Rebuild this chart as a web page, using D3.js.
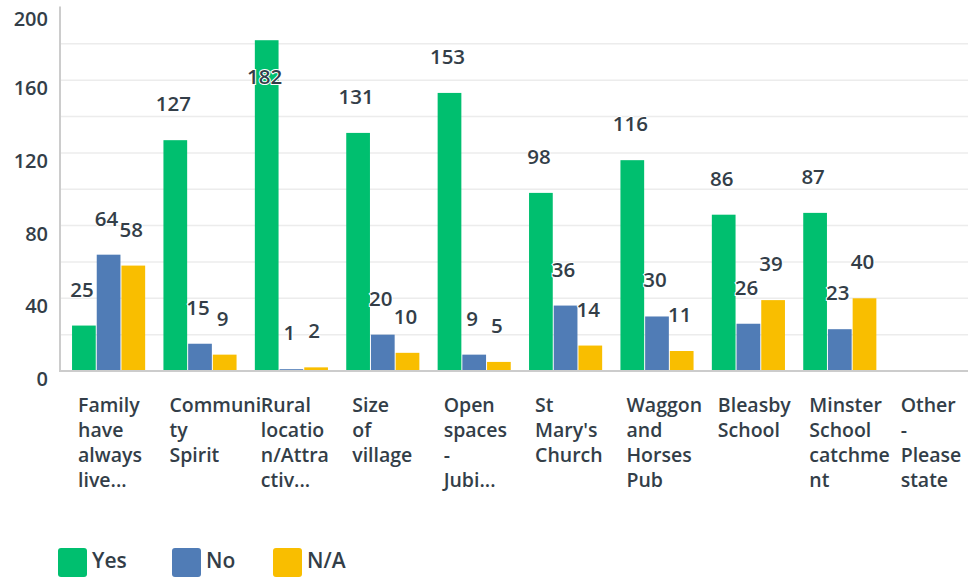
<!DOCTYPE html>
<html>
<head>
<meta charset="utf-8">
<script src="https://cdn.jsdelivr.net/npm/d3@7"></script>
<style>
  body { margin: 0; background: #fff; }
  text { font-family: "Open Sans", sans-serif; fill: #333e48; }
</style>
</head>
<body>
<script>
// chart data
var categoryLines = [
    ["Family", "have", "always", "live..."],
    ["Communi", "ty", "Spirit"],
    ["Rural", "locatio", "n/Attra", "ctiv..."],
    ["Size", "of", "village"],
    ["Open", "spaces", "-", "Jubi..."],
    ["St", "Mary's", "Church"],
    ["Waggon", "and", "Horses", "Pub"],
    ["Bleasby", "School"],
    ["Minster", "School", "catchme", "nt"],
    ["Other", "-", "Please", "state"]
];
var seriesNames = ["Yes", "No", "N/A"];
var seriesColors = ["#00bf6f", "#507cb6", "#f9be00"];
var yesValues = [25, 127, 182, 131, 153, 98, 116, 86, 87, 0];
var noValues = [64, 15, 1, 20, 9, 36, 30, 26, 23, 0];
var naValues = [58, 9, 2, 10, 5, 14, 11, 39, 40, 0];
var yTicks = [0, 40, 80, 120, 160, 200];
var gridValues = [20, 40, 60, 80, 100, 120, 140, 160, 180];

function init() {
    var width = 968;
    var height = 577;
    var plotTop = 7.5, plotBottom = 371;

    var svg = d3.select("body").append("svg")
        .attr("width", width)
        .attr("height", height);

    var series = [yesValues, noValues, naValues];

    // step of ~91.4px per category, first group starting at x=72
    var x0 = d3.scaleBand()
        .domain(d3.range(categoryLines.length))
        .range([62.9, 976.9])
        .paddingInner(0.2)
        .paddingOuter(0.1);

    var x1 = d3.scaleBand()
        .domain(d3.range(series.length))
        .range([0, x0.bandwidth()])
        .paddingInner(0.04);

    var y = d3.scaleLinear()
        .domain([0, 200])
        .range([plotBottom, plotTop]);

    // gridlines
    svg.append("g").selectAll("line")
        .data(gridValues)
        .enter().append("line")
        .attr("x1", 61).attr("x2", width)
        .attr("y1", function(d) { return y(d); })
        .attr("y2", function(d) { return y(d); })
        .attr("stroke", "#ececec")
        .attr("stroke-width", 1.5);

    // y tick labels
    svg.append("g").selectAll("text")
        .data(yTicks)
        .enter().append("text")
        .attr("x", 48)
        .attr("y", function(d) { return Math.max(y(d) + 15, 26); })
        .attr("text-anchor", "end")
        .attr("font-size", "20px")
        .attr("font-weight", 600)
        .text(function(d) { return d; });

    // bars
    var groups = svg.append("g").selectAll("g")
        .data(categoryLines)
        .enter().append("g")
        .attr("transform", function(d, i) { return "translate(" + x0(i) + ",0)"; });

    groups.selectAll("rect")
        .data(function(d, i) { return series.map(function(s, k) { return { k: k, v: s[i] }; }); })
        .enter().append("rect")
        .filter(function(d) { return d.v > 0; })
        .attr("x", function(d) { return x1(d.k); })
        .attr("y", function(d) { return y(d.v); })
        .attr("width", x1.bandwidth())
        .attr("height", function(d) { return y(0) - y(d.v); })
        .attr("fill", function(d) { return seriesColors[d.k]; });

    // axis lines
    svg.append("line")
        .attr("x1", 60).attr("x2", 60)
        .attr("y1", plotTop - 1).attr("y2", plotBottom + 1)
        .attr("stroke", "#cccccc").attr("stroke-width", 2);
    svg.append("line")
        .attr("x1", 60).attr("x2", width)
        .attr("y1", plotBottom).attr("y2", plotBottom)
        .attr("stroke", "#cccccc").attr("stroke-width", 2);

    // value labels
    groups.selectAll("text.value")
        .data(function(d, i) { return series.map(function(s, k) { return { k: k, v: s[i] }; }); })
        .enter().filter(function(d) { return d.v > 0; }).append("text")
        .attr("class", "value")
        .attr("x", function(d) { return x1(d.k) + x1.bandwidth() / 2 - 2; })
        .attr("y", function(d) {
            var base = y(d.v) - 29;
            // keep the label inside the plot area
            if (base - 15 < plotTop) base = y(d.v) + 44;
            return base;
        })
        .attr("text-anchor", "middle")
        .attr("font-size", "20.5px")
        .attr("font-weight", 600)
        .attr("stroke", "#fff")
        .attr("stroke-width", 2)
        .attr("paint-order", "stroke")
        .text(function(d) { return d.v; });

    // category labels
    var catText = groups.append("text")
        .attr("x", 6)
        .attr("y", 412)
        .attr("font-size", "19.5px")
        .attr("font-weight", 600);
    catText.selectAll("tspan")
        .data(function(d) { return d; })
        .enter().append("tspan")
        .attr("x", 6)
        .attr("dy", function(d, j) { return j === 0 ? 0 : 25; })
        .text(function(d) { return d; });

    // legend
    var legendX = [58, 172, 273];
    var legend = svg.append("g").selectAll("g")
        .data(seriesNames)
        .enter().append("g")
        .attr("transform", function(d, i) { return "translate(" + legendX[i] + ",548)"; });
    legend.append("rect")
        .attr("width", 29).attr("height", 29)
        .attr("rx", 3)
        .attr("fill", function(d, i) { return seriesColors[i]; });
    legend.append("text")
        .attr("x", 34)
        .attr("y", 19.5)
        .attr("font-size", "21px")
        .attr("font-weight", 600)
        .text(function(d) { return d; });
}

window.onload = init;
</script>
</body>
</html>
